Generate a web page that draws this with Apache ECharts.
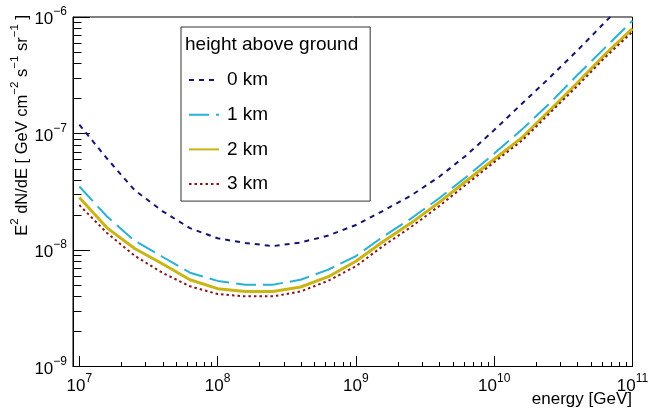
<!DOCTYPE html>
<html>
<head>
<meta charset="utf-8">
<script src="https://cdn.jsdelivr.net/npm/echarts@6/dist/echarts.min.js"></script>
<style>
html,body{margin:0;padding:0;background:#fff;}
#chart{width:664px;height:411px;}
</style>
</head>
<body>
<div id="chart"></div>
<script>
// ---- data ----
var energy = [1e7, 1.585e7, 2.512e7, 3.981e7, 6.31e7, 1e8, 1.585e8, 2.512e8, 3.981e8, 6.31e8, 1e9, 1.585e9, 2.512e9, 3.981e9, 6.31e9, 1e10, 1.585e10, 2.512e10, 3.981e10, 6.31e10, 1e11];
var km0 = [1.19e-7, 6.1e-8, 3.26e-8, 2.16e-8, 1.54e-8, 1.26e-8, 1.15e-8, 1.08e-8, 1.16e-8, 1.33e-8, 1.64e-8, 2.18e-8, 2.94e-8, 4.23e-8, 6.52e-8, 1.07e-7, 1.80e-7, 3.01e-7, 5.14e-7, 9.0e-7, 1.55e-6];
var km1 = [3.51e-8, 1.94e-8, 1.20e-8, 8.75e-9, 6.38e-9, 5.43e-9, 5.04e-9, 5.04e-9, 5.56e-9, 6.78e-9, 8.87e-9, 1.31e-8, 1.87e-8, 2.77e-8, 4.26e-8, 6.72e-8, 1.08e-7, 1.81e-7, 3.16e-7, 5.43e-7, 9.3e-7];
var km2 = [2.82e-8, 1.55e-8, 1.03e-8, 7.62e-9, 5.56e-9, 4.66e-9, 4.41e-9, 4.41e-9, 4.81e-9, 5.90e-9, 8.0e-9, 1.19e-8, 1.71e-8, 2.55e-8, 3.93e-8, 6.01e-8, 9.2e-8, 1.57e-7, 2.71e-7, 4.75e-7, 7.94e-7];
var km3 = [2.43e-8, 1.40e-8, 8.93e-9, 6.38e-9, 4.88e-9, 4.19e-9, 4.0e-9, 4.0e-9, 4.41e-9, 5.44e-9, 7.26e-9, 1.09e-8, 1.58e-8, 2.37e-8, 3.67e-8, 5.68e-8, 8.67e-8, 1.49e-7, 2.55e-7, 4.48e-7, 7.48e-7];
var seriesNames = ['0 km', '1 km', '2 km', '3 km'];
var legendTitle = 'height above ground';
var xTitle = 'energy [GeV]';
var xMin = 9e6, xMax = 1e11, yMin = 1e-9, yMax = 1e-6;
// minor tick positions (log axis, 2..9 per decade)
var minorMultipliers = [2, 3, 4, 5, 6, 7, 8, 9];
var xDecades = [1e7, 1e8, 1e9, 1e10];
var yDecades = [1e-9, 1e-8, 1e-7];

var FONT = '"Liberation Sans", Arial, Helvetica, sans-serif';

function pairs(xs, ys) { return xs.map(function (x, i) { return [x, ys[i]]; }); }
function powLabel(v) {
  var e = Math.log10(v), r = Math.round(e);
  if (Math.abs(e - r) > 1e-6) return '';
  return '{b|10}{s|' + (r < 0 ? '\u2212' + (-r) : r) + '}';
}
var labelRich = {
  b: {fontSize: 17, fontFamily: FONT, color: '#000', lineHeight: 22, verticalAlign: 'bottom'},
  s: {fontSize: 12, fontFamily: FONT, color: '#000', lineHeight: 12, verticalAlign: 'top'}
};

var xMinorData = [], yMinorData = [];
xDecades.forEach(function (d) { minorMultipliers.forEach(function (m) { xMinorData.push([d * m, yMin]); }); });
yDecades.forEach(function (d) { minorMultipliers.forEach(function (m) { yMinorData.push([xMin, d * m]); }); });

var chart = echarts.init(document.getElementById('chart'), null, {renderer: 'canvas'});

var styles = [
  {color: '#15156e', width: 2, type: [5, 5]},
  {color: '#2bb1d3', width: 2, type: [20, 7]},
  {color: '#c9b516', width: 3, type: 'solid'},
  {color: '#86181b', width: 2, type: [2.5, 3]}
];
var dataSets = [km0, km1, km2, km3];

function minorTickSeries(data, horizontal, len) {
  return {
    type: 'custom', data: data, silent: true, z: 20, clip: false,
    renderItem: function (params, api) {
      var p = api.coord([api.value(0), api.value(1)]);
      var x = Math.round(p[0]) + 0.5, y = Math.round(p[1]) + 0.5;
      var shape = horizontal
        ? {x1: x, y1: Math.round(p[1]), x2: x, y2: Math.round(p[1]) - len}
        : {x1: Math.round(p[0]), y1: y, x2: Math.round(p[0]) + len, y2: y};
      return {type: 'line', shape: shape, style: {stroke: '#000', lineWidth: 1}};
    }
  };
}

var lineSeries = seriesNames.map(function (name, i) {
  return {
    name: name, type: 'line', data: pairs(energy, dataSets[i]),
    symbol: 'none', showSymbol: false, smooth: false, clip: true,
    lineStyle: styles[i], itemStyle: {color: styles[i].color},
    z: 2 + i
  };
});

var option = {
  animation: false,
  backgroundColor: '#fff',
  grid: {left: 73, top: 17, width: 559.5, height: 349.5, show: true, borderColor: '#000', borderWidth: 1, backgroundColor: 'transparent'},
  title: {
    text: legendTitle, left: 185, top: 35, padding: 0, z: 10,
    textStyle: {fontSize: 19, fontWeight: 'normal', fontFamily: FONT, color: '#000'}
  },
  legend: {
    orient: 'vertical', left: 181, top: 27,
    padding: [43.5, 102, 7.5, 7],
    itemWidth: 30, itemHeight: 14, itemGap: 15.7,
    backgroundColor: '#fff', borderColor: '#333', borderWidth: 1,
    itemStyle: {opacity: 0, borderWidth: 0},
    textStyle: {fontSize: 19, fontFamily: FONT, color: '#000', lineHeight: 19, padding: [0, 0, 0, 3]},
    data: seriesNames
  },
  xAxis: {
    type: 'log', logBase: 10, min: xMin, max: xMax,
    axisLine: {show: true, lineStyle: {color: '#000', width: 1}},
    axisTick: {show: true, inside: true, length: 10.5, lineStyle: {color: '#000', width: 1}},
    splitLine: {show: false},
    axisLabel: {margin: 6, formatter: powLabel, rich: labelRich, hideOverlap: false, showMinLabel: true, showMaxLabel: true}
  },
  yAxis: {
    type: 'log', logBase: 10, min: yMin, max: yMax,
    axisLine: {show: true, lineStyle: {color: '#000', width: 1}},
    axisTick: {show: true, inside: true, length: 17, lineStyle: {color: '#000', width: 1}},
    splitLine: {show: false},
    axisLabel: {margin: 6, formatter: powLabel, rich: labelRich, hideOverlap: false, showMinLabel: true, showMaxLabel: true}
  },
  graphic: [
    {
      type: 'text', x: 632, y: 399, z: 10,
      style: {text: xTitle, font: '17px ' + FONT, fill: '#000', align: 'right', verticalAlign: 'middle'}
    },
    {
      type: 'text', x: 20, y: 15, rotation: Math.PI / 2, z: 10,
      style: {
        text: '{b|E}{s|2}{b| dN/dE [ GeV cm}{s|\u22122}{b| s}{s|\u22121}{b| sr}{s|\u22121}{b| ]}',
        align: 'right', verticalAlign: 'middle',
        rich: {
          b: {fontSize: 16.5, fontFamily: FONT, fill: '#000', lineHeight: 22, verticalAlign: 'bottom'},
          s: {fontSize: 11.5, fontFamily: FONT, fill: '#000', lineHeight: 12, verticalAlign: 'top'}
        }
      }
    }
  ],
  series: lineSeries.concat([
    minorTickSeries(xMinorData, true, 5),
    minorTickSeries(yMinorData, false, 8.5)
  ])
};
chart.setOption(option);
</script>
</body>
</html>
